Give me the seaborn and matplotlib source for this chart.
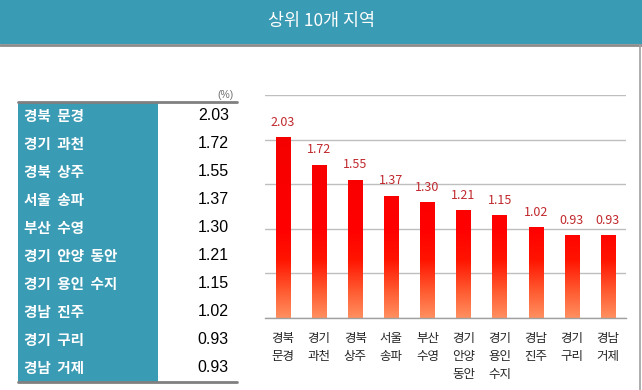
import numpy as np
import pandas as pd
import matplotlib
matplotlib.use("Agg")
import matplotlib.pyplot as plt
from matplotlib.colors import LinearSegmentedColormap
from matplotlib.patches import Rectangle
import seaborn as sns

title = "상위 10개 지역"
regions = ["경북 문경", "경기 과천", "경북 상주", "서울 송파", "부산 수영",
           "경기 안양 동안", "경기 용인 수지", "경남 진주", "경기 구리", "경남 거제"]
values = [2.03, 1.72, 1.55, 1.37, 1.30, 1.21, 1.15, 1.02, 0.93, 0.93]
xlabels = ["경북\n문경", "경기\n과천", "경북\n상주", "서울\n송파", "부산\n수영",
           "경기\n안양\n동안", "경기\n용인\n수지", "경남\n진주", "경기\n구리", "경남\n거제"]
unit = "(%)"

sns.set_theme(style="white")
plt.rcParams['font.family'] = ['Noto Sans CJK KR', 'DejaVu Sans']

W, H = 642, 390
fig = plt.figure(figsize=(W / 100, H / 100), dpi=100)
fig.patch.set_facecolor("white")

def fx(px):
    return px / W

def fy(py):
    return 1 - py / H

teal = "#3A9BB4"

# background overlay axes for title bar, table and borders
bg = fig.add_axes([0, 0, 1, 1])
bg.set_xlim(0, W)
bg.set_ylim(H, 0)
bg.axis("off")
bg.add_patch(Rectangle((0, 0), W, 44, facecolor=teal, edgecolor="none"))
bg.plot([0, W], [45, 45], color="#8C8C8C", lw=2)
bg.plot([640, 640], [45, H], color="#A0A0A0", lw=1.2)
bg.text(W / 2, 21, title, color="white", fontsize=12.5, ha="center", va="center",
        fontweight="medium")

# table
top, rowh = 102, 28
bg.add_patch(Rectangle((18, top), 140, rowh * len(regions), facecolor=teal, edgecolor="none"))
bg.plot([18, 237], [top, top], color="#808080", lw=2)
bg.plot([18, 237], [top + rowh * len(regions), top + rowh * len(regions)], color="#808080", lw=2)
bg.text(234, 95, unit, fontsize=7.5, color="#707070", ha="right", va="center",
        family=['Liberation Sans', 'DejaVu Sans'])
for i, (r, v) in enumerate(zip(regions, values)):
    yc = top + rowh * i + rowh / 2
    bg.text(24, yc, r.replace(" ", "  "), color="white", fontsize=10.5, fontweight="bold",
            ha="left", va="center")
    bg.text(229, yc, f"{v:.2f}", color="black", fontsize=11.5, ha="right", va="center",
            family=['Liberation Sans', 'DejaVu Sans'])

# bar chart
ax = fig.add_axes([fx(265), fy(318), fx(626) - fx(265), fy(95) - fy(318)])
df = pd.DataFrame({"region": xlabels, "value": values})
sns.barplot(data=df, x="region", y="value", color="red", width=0.4, ax=ax,
            saturation=1)
ax.set_ylim(0, 2.5)
ax.set_xlim(-0.5, len(values) - 0.5)
ax.set_yticks(np.arange(0, 2.51, 0.5))
ax.set_yticklabels([])
ax.tick_params(axis="y", length=0)
ax.yaxis.grid(True, color="#BEBEBE", lw=1)
ax.xaxis.grid(False)
ax.set_axisbelow(True)
for s in ["top", "left", "right"]:
    ax.spines[s].set_visible(False)
ax.spines["bottom"].set_color("#A0A0A0")
ax.spines["bottom"].set_linewidth(1)
ax.set_xlabel("")
ax.set_ylabel("")
ax.set_xticks(range(len(values)))
ax.set_xticklabels(xlabels, fontsize=9, linespacing=1.5, va="top")
ax.tick_params(axis="x", which="major", length=0, pad=10)
ax.set_xticks(np.arange(-0.5, len(values), 1), minor=True)
ax.tick_params(axis="x", which="minor", length=5, color="#A0A0A0", width=1, direction="out")

cmap = LinearSegmentedColormap.from_list(
    "grad", [(0.0, "#FF9060"), (0.12, "#FF5A30"), (0.26, "#FF1400"), (0.4, "#FF0000"), (1.0, "#F00000")])
grad = np.linspace(0, 1, 256).reshape(-1, 1)
for p in ax.patches:
    p.set_facecolor("none")
    p.set_edgecolor("none")
    im = ax.imshow(grad, cmap=cmap, origin="lower", aspect="auto",
                   extent=[-0.5, len(values) - 0.5, 0, 2.5], zorder=2)
    im.set_clip_path(p)

ax.set_xlim(-0.5, len(values) - 0.5)
ax.set_ylim(0, 2.5)
for i, v in enumerate(values):
    ax.annotate(f"{v:.2f}", (i, v), xytext=(0, 6), textcoords="offset points",
                ha="center", va="bottom", color="#C0282D", fontsize=9)

fig.savefig("out.png", dpi=100, facecolor="white")
